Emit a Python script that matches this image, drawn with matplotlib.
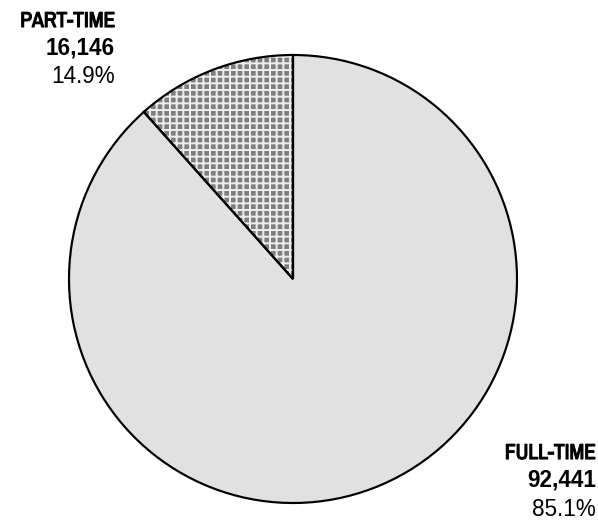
import matplotlib.pyplot as plt
import matplotlib.patheffects as pe
from matplotlib import font_manager

categories = ['PART-TIME', 'FULL-TIME']
counts = [16146, 92441]
shares = ['14.9%', '85.1%']
# slice sizes as drawn in the picture (the drawn angle is smaller than the printed share)
slice_sizes = [11.6, 88.4]

DPI = 120
W, H = 598, 524
fig = plt.figure(figsize=(W / DPI, H / DPI), dpi=DPI)
ax = fig.add_axes([0, 0, 1, 1])

plt.rcParams['hatch.linewidth'] = 1.2
center = (293, H - 279)
radius = 224

# fill layer (hatch colour = edgecolor, so hide the edge itself)
wedges, _ = ax.pie(slice_sizes, startangle=90, counterclock=True, center=center, radius=radius,
                   colors=['#7f7f7f', '#e1e1e1'], frame=True,
                   wedgeprops=dict(linewidth=0, edgecolor='#ececec'))
wedges[0].set_hatch('+++')
wedges[1].set_edgecolor('#e1e1e1')
# outline layer
ax.pie(slice_sizes, startangle=90, counterclock=True, center=center, radius=radius, frame=True,
       colors=['none', 'none'], wedgeprops=dict(linewidth=1.3, edgecolor='black'))
ax.set_xlim(0, W)
ax.set_ylim(0, H)
ax.set_aspect('equal')
ax.axis('off')

fs = 22.5 * 72 / DPI
# category names use a narrow bold face in the reference; use one if present
narrow = [f.name for f in font_manager.fontManager.ttflist
          if 'narrow' in f.name.lower() or 'condensed' in f.name.lower()]
head_effects = []
if narrow:
    head_fam, head_fs = [narrow[0], 'DejaVu Sans'], 21.5 * 72 / DPI
    head_effects = [pe.withStroke(linewidth=0.7, foreground='black')]
else:
    head_fam, head_fs = ['Liberation Sans', 'DejaVu Sans'], 18.8 * 72 / DPI
fam2 = ['Liberation Sans', 'DejaVu Sans']
pos = [(115, [27, 54, 83]), (596, [459, 487, 516])]
for (x, ys), cat, n, s in zip(pos, categories, counts, shares):
    ax.text(x, H - ys[0], cat, ha='right', va='baseline', fontsize=head_fs, family=head_fam,
            fontweight='bold', path_effects=head_effects)
    ax.text(x, H - ys[1], f'{n:,}', ha='right', va='baseline', fontsize=fs, family=fam2, fontweight='bold')
    ax.text(x, H - ys[2], s, ha='right', va='baseline', fontsize=fs, family=fam2)

fig.savefig('out.png', dpi=DPI)
